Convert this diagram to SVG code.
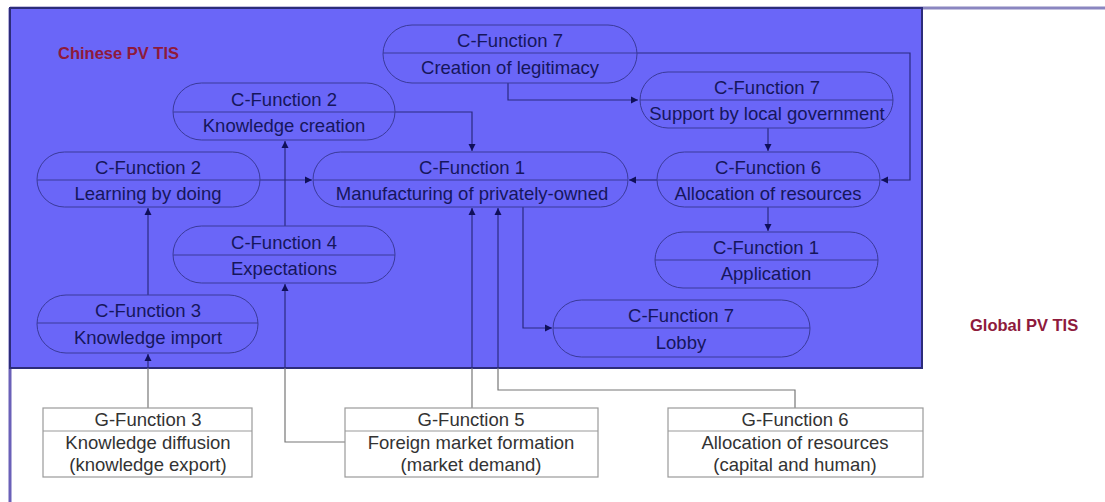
<svg xmlns="http://www.w3.org/2000/svg" width="1105" height="502" viewBox="0 0 1105 502">
<defs>
<style>
.pill{fill:none;stroke:#3a3a9a;stroke-width:1}
.div{stroke:#3a3a9a;stroke-width:1}
.t{font-family:"Liberation Sans",Arial,sans-serif;font-size:18.5px;fill:#16165c;text-anchor:middle}
.g{fill:#ffffff;stroke:#9a9a9a;stroke-width:1.2}
.gd{stroke:#9a9a9a;stroke-width:1.2}
.gt{font-family:"Liberation Sans",Arial,sans-serif;font-size:18.5px;fill:#333333;text-anchor:middle}
.c{fill:none;stroke:#2a2a80;stroke-width:1.2}
.co{fill:none;stroke:#777777;stroke-width:1.2}
.lbl{font-family:"Liberation Sans",Arial,sans-serif;font-size:16.5px;font-weight:bold;fill:#8e1a3c}
</style>
<marker id="ah" markerWidth="8" markerHeight="8" refX="7" refY="4" orient="auto" markerUnits="userSpaceOnUse">
<path d="M0,0.5 L7,4 L0,7.5 Z" fill="#10105a"/>
</marker>
</defs>
<rect width="1105" height="502" fill="#ffffff"/>
<g id="frame">
<line x1="10" y1="8" x2="1105" y2="8" stroke="#8a86c0" stroke-width="3"/>
<line x1="10" y1="8" x2="10" y2="502" stroke="#6a60b8" stroke-width="3"/>
<rect x="10" y="8" width="912" height="360" fill="#6a66f8" stroke="#2c2c7a" stroke-width="2"/>
</g>
<text class="lbl" x="58" y="59">Chinese PV TIS</text>
<text class="lbl" x="970" y="331">Global PV TIS</text>

<g id="connectors">
<path class="c" d="M508,83 V100 H638" marker-end="url(#ah)"/>
<path class="c" d="M637,53 H910 V180 H881" marker-end="url(#ah)"/>
<path class="c" d="M768,128 V151" marker-end="url(#ah)"/>
<path class="c" d="M657,180 H629" marker-end="url(#ah)"/>
<path class="c" d="M768,207 V231" marker-end="url(#ah)"/>
<path class="c" d="M395,112 H472 V151" marker-end="url(#ah)"/>
<path class="c" d="M260,180 H312" marker-end="url(#ah)"/>
<path class="c" d="M285,226 V141" marker-end="url(#ah)"/>
<path class="c" d="M148,295 V208" marker-end="url(#ah)"/>
<path class="co" d="M148,408 V368"/>
<path class="c" d="M148,368 V354" marker-end="url(#ah)"/>
<path class="co" d="M345,442 H285 V368"/>
<path class="c" d="M285,368 V284" marker-end="url(#ah)"/>
<path class="co" d="M472,408 V368"/>
<path class="c" d="M472,368 V208" marker-end="url(#ah)"/>
<path class="co" d="M795,408 V390 H498 V368"/>
<path class="c" d="M498,368 V208" marker-end="url(#ah)"/>
<path class="c" d="M523,207 V328 H552" marker-end="url(#ah)"/>
</g>

<g id="n-legitimacy">
<rect class="pill" x="383" y="25" width="254" height="58" rx="29"/>
<line class="div" x1="383" y1="53" x2="637" y2="53"/>
<text class="t" x="510" y="47">C-Function 7</text>
<text class="t" x="510" y="74">Creation of legitimacy</text>
</g>
<g id="n-knowledge-creation">
<rect class="pill" x="173" y="83" width="222" height="57" rx="28.5"/>
<line class="div" x1="173" y1="112" x2="395" y2="112"/>
<text class="t" x="284" y="106">C-Function 2</text>
<text class="t" x="284" y="132">Knowledge creation</text>
</g>
<g id="n-support">
<rect class="pill" x="640" y="72" width="253" height="56" rx="28"/>
<line class="div" x1="640" y1="100" x2="893" y2="100"/>
<text class="t" x="767" y="94">C-Function 7</text>
<text class="t" x="767" y="120">Support by local government</text>
</g>
<g id="n-learning">
<rect class="pill" x="37" y="152" width="223" height="55" rx="27.5"/>
<line class="div" x1="37" y1="180" x2="260" y2="180"/>
<text class="t" x="148" y="174">C-Function 2</text>
<text class="t" x="148" y="200">Learning by doing</text>
</g>
<g id="n-manufacturing">
<rect class="pill" x="313" y="152" width="315" height="55" rx="27.5"/>
<line class="div" x1="313" y1="180" x2="628" y2="180"/>
<text class="t" x="472" y="174">C-Function 1</text>
<text class="t" x="472" y="200">Manufacturing of privately-owned</text>
</g>
<g id="n-allocation">
<rect class="pill" x="657" y="152" width="223" height="55" rx="27.5"/>
<line class="div" x1="657" y1="180" x2="880" y2="180"/>
<text class="t" x="768" y="174">C-Function 6</text>
<text class="t" x="768" y="200">Allocation of resources</text>
</g>
<g id="n-expectations">
<rect class="pill" x="173" y="226" width="222" height="57" rx="28.5"/>
<line class="div" x1="173" y1="255" x2="395" y2="255"/>
<text class="t" x="284" y="249">C-Function 4</text>
<text class="t" x="284" y="275">Expectations</text>
</g>
<g id="n-application">
<rect class="pill" x="655" y="232" width="223" height="56" rx="28"/>
<line class="div" x1="655" y1="260" x2="878" y2="260"/>
<text class="t" x="766" y="254">C-Function 1</text>
<text class="t" x="766" y="280">Application</text>
</g>
<g id="n-knowledge-import">
<rect class="pill" x="37" y="295" width="221" height="58" rx="29"/>
<line class="div" x1="37" y1="323" x2="258" y2="323"/>
<text class="t" x="148" y="317">C-Function 3</text>
<text class="t" x="148" y="344">Knowledge import</text>
</g>
<g id="n-lobby">
<rect class="pill" x="553" y="300" width="257" height="57" rx="28.5"/>
<line class="div" x1="553" y1="328" x2="810" y2="328"/>
<text class="t" x="681" y="322">C-Function 7</text>
<text class="t" x="681" y="349">Lobby</text>
</g>

<g id="g-function-3">
<rect class="g" x="43" y="408" width="209" height="69"/>
<line class="gd" x1="43" y1="431" x2="252" y2="431"/>
<text class="gt" x="148" y="426">G-Function 3</text>
<text class="gt" x="148" y="449">Knowledge diffusion</text>
<text class="gt" x="148" y="471">(knowledge export)</text>
</g>
<g id="g-function-5">
<rect class="g" x="345" y="408" width="253" height="69"/>
<line class="gd" x1="345" y1="431" x2="598" y2="431"/>
<text class="gt" x="471" y="426">G-Function 5</text>
<text class="gt" x="471" y="449">Foreign market formation</text>
<text class="gt" x="471" y="471">(market demand)</text>
</g>
<g id="g-function-6">
<rect class="g" x="668" y="408" width="255" height="69"/>
<line class="gd" x1="668" y1="431" x2="923" y2="431"/>
<text class="gt" x="795" y="426">G-Function 6</text>
<text class="gt" x="795" y="449">Allocation of resources</text>
<text class="gt" x="795" y="471">(capital and human)</text>
</g>
</svg>
